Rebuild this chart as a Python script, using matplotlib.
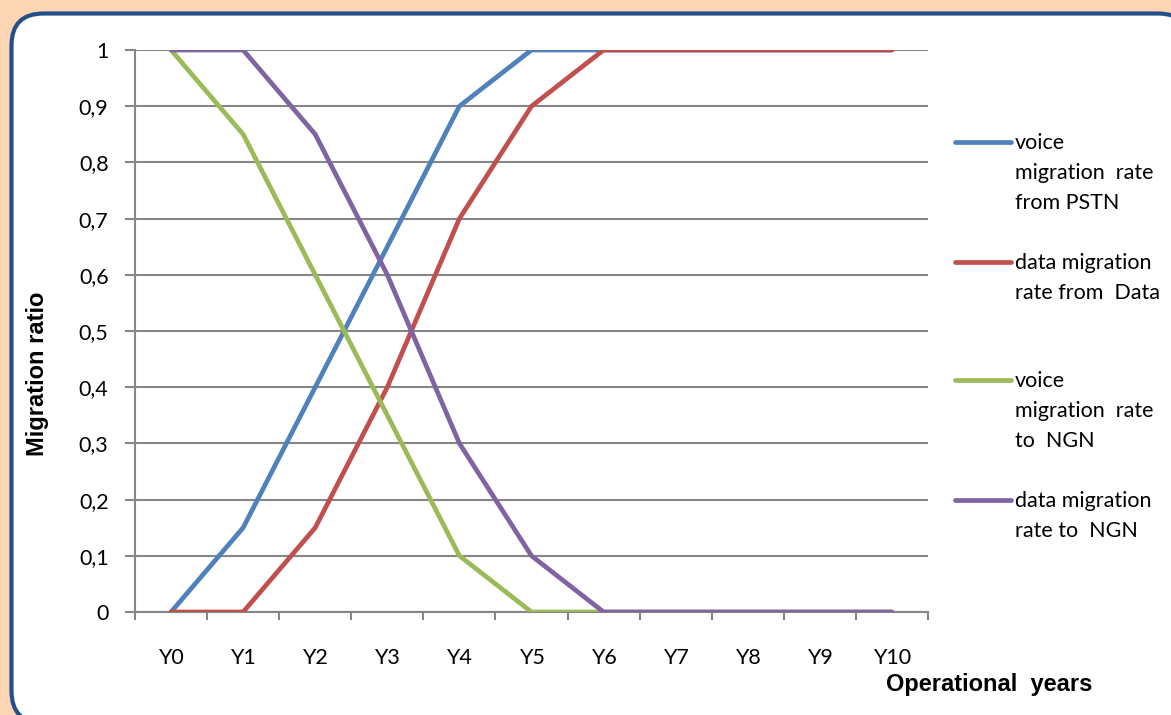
import matplotlib
matplotlib.use("Agg")
import matplotlib.pyplot as plt
from matplotlib.patches import FancyBboxPatch
from matplotlib.lines import Line2D

categories = ["Y0", "Y1", "Y2", "Y3", "Y4", "Y5", "Y6", "Y7", "Y8", "Y9", "Y10"]
voice_from_pstn = [0, 0.15, 0.4, 0.65, 0.9, 1, 1, 1, 1, 1, 1]
data_from_data = [0, 0, 0.15, 0.4, 0.7, 0.9, 1, 1, 1, 1, 1]
voice_to_ngn = [1, 0.85, 0.6, 0.35, 0.1, 0, 0, 0, 0, 0, 0]
data_to_ngn = [1, 1, 0.85, 0.6, 0.3, 0.1, 0, 0, 0, 0, 0]
series_labels = ["voice\nmigration  rate\nfrom PSTN", "data migration\nrate from  Data",
                 "voice\nmigration  rate\nto  NGN", "data migration\nrate to  NGN"]
yticks = [0, 0.1, 0.2, 0.3, 0.4, 0.5, 0.6, 0.7, 0.8, 0.9, 1]
ytick_labels = ["0", "0,1", "0,2", "0,3", "0,4", "0,5", "0,6", "0,7", "0,8", "0,9", "1"]

colors = ["#4F81BD", "#C0504D", "#9BBB59", "#8064A2"]
series = [voice_from_pstn, data_from_data, voice_to_ngn, data_to_ngn]
grid_c = "#868686"

W, H = 1171, 715
fig = plt.figure(figsize=(W / 100, H / 100), dpi=100)
fig.patch.set_facecolor("#FCD5B4")

# background panel
bg = fig.add_axes([0, 0, 1, 1], zorder=0)
bg.set_xlim(0, W)
bg.set_ylim(0, H)
bg.axis("off")
r = 32
x0, x1 = 11.5, 1190
y0, y1 = -8, H - 13.5
panel = FancyBboxPatch((x0 + r, y0 + r), (x1 - x0) - 2 * r, (y1 - y0) - 2 * r,
                       boxstyle="round,pad=%d,rounding_size=%d" % (r, r),
                       facecolor="white", edgecolor="#23508A", linewidth=3, clip_on=False)
bg.add_patch(panel)

ax = fig.add_axes([135 / W, (H - 612) / H, (928 - 135) / W, (612 - 50) / H], zorder=1)
ax.set_facecolor("none")
x = list(range(len(categories)))
for s, c in zip(series, colors):
    ax.plot(x, s, color=c, linewidth=3.4, solid_capstyle="round", solid_joinstyle="round", zorder=3)

ax.set_xlim(-0.5, len(categories) - 0.5)
ax.set_ylim(0, 1)
ax.set_yticks(yticks)
ax.set_yticklabels(ytick_labels, fontfamily="Lato", fontsize=15.5)
ax.set_xticks(x)
ax.set_xticklabels(categories, fontfamily="Lato", fontsize=15.5)
ax.set_xticks([i - 0.5 for i in range(len(categories) + 1)], minor=True)
ax.tick_params(axis="x", which="major", length=0, pad=26)
ax.tick_params(axis="x", which="minor", length=6, color=grid_c, width=1.5, direction="out")
ax.tick_params(axis="y", length=7, color=grid_c, width=1.5, direction="out", pad=12)
ax.yaxis.grid(True, color=grid_c, linewidth=1.5, zorder=1)
ax.set_axisbelow(True)
for sp in ["top", "right"]:
    ax.spines[sp].set_visible(False)
for sp in ["left", "bottom"]:
    ax.spines[sp].set_color(grid_c)
    ax.spines[sp].set_linewidth(1.5)

fig.text(38 / W, 1 - 374 / H, "Migration ratio", rotation=90, ha="center", va="center",
         fontfamily="Liberation Sans", fontweight="bold", fontsize=17)
fig.text(989 / W, 1 - 684 / H, "Operational  years", ha="center", va="center",
         fontfamily="Liberation Sans", fontweight="bold", fontsize=17)

# legend
leg_y = [142, 262, 380, 500]
for lbl, c, yy in zip(series_labels, colors, leg_y):
    fig.add_artist(Line2D([955 / W, 1011 / W], [1 - yy / H, 1 - yy / H], color=c,
                          linewidth=3.4, solid_capstyle="round", transform=fig.transFigure))
    fig.text(1015 / W, 1 - (yy - 9) / H, lbl, ha="left", va="top", fontfamily="Lato",
             fontsize=15.5, linespacing=1.62)

fig.savefig("out.png", dpi=100, facecolor=fig.get_facecolor())
